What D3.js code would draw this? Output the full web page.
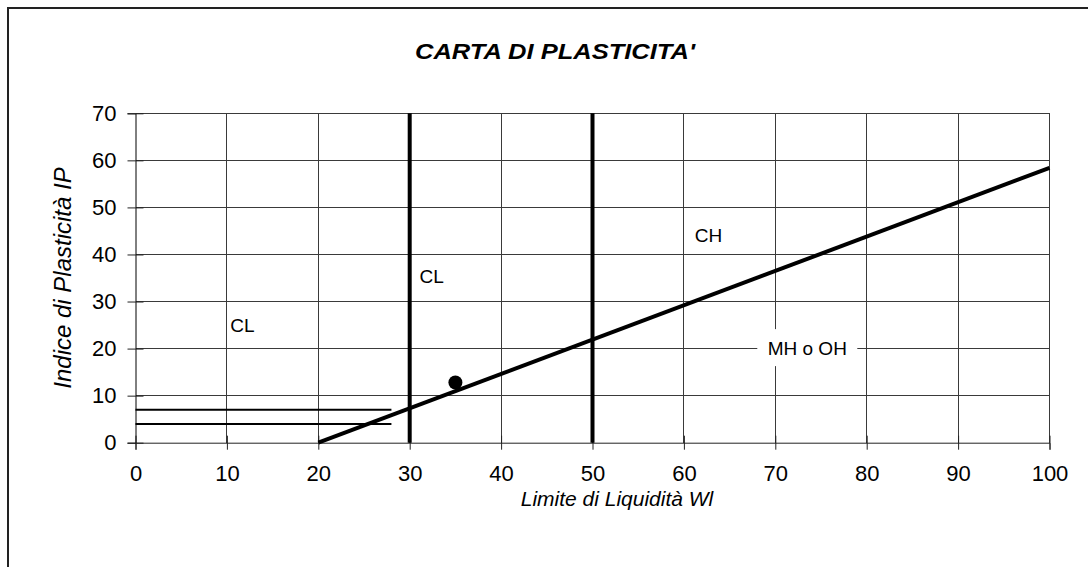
<!DOCTYPE html>
<html><head><meta charset="utf-8">
<script src="https://cdn.jsdelivr.net/npm/d3@7"></script>
<style>body{margin:0;background:#fff}svg{display:block}text{font-family:"Liberation Sans",Arial,sans-serif}</style>
</head><body>
<script>
const xTicks = [0,10,20,30,40,50,60,70,80,90,100];
const yTicks = [0,10,20,30,40,50,60,70];
const aLine = [[20,0],[100,58.4]];
const verticalLimits = [30,50];
const horizLimits = [{y:4,x0:0,x1:28},{y:7,x0:0,x1:28}];
const samplePoint = [{x:35,y:12.8}];
const zoneLabels = [
  {text:"CL", x:11.7, y:25},
  {text:"CL", x:32.4, y:35.4},
  {text:"CH", x:62.7, y:44.1},
  {text:"MH o OH", x:73.5, y:20.1, box:true}
];
const title = "CARTA DI PLASTICITA'";
const xTitle = "Limite di Liquidità Wl";
const yTitle = "Indice di Plasticità IP";

const W=1088,H=567;
const svg=d3.select("body").append("svg").attr("width",W).attr("height",H);
svg.append("rect").attr("x",8).attr("y",8).attr("width",1200).attr("height",700)
  .attr("fill","#fff").attr("stroke","#222").attr("stroke-width",2);

const x=d3.scaleLinear().domain([0,100]).range([135.5,1049.5]);
const y=d3.scaleLinear().domain([0,70]).range([442.7,113.3]);

// grid
svg.append("g").selectAll("line").data(yTicks.filter(d=>d>0)).join("line")
  .attr("x1",x(0)).attr("x2",x(100)).attr("y1",d=>y(d)).attr("y2",d=>y(d))
  .attr("stroke","#3a3a3a").attr("stroke-width",1).attr("shape-rendering","crispEdges");
svg.append("g").selectAll("line").data(xTicks.filter(d=>d>0)).join("line")
  .attr("y1",y(0)).attr("y2",y(70)).attr("x1",d=>x(d)).attr("x2",d=>x(d))
  .attr("stroke","#3a3a3a").attr("stroke-width",1).attr("shape-rendering","crispEdges");

// axes
const xAxis=d3.axisBottom(x).tickValues(xTicks).tickSize(7).tickPadding(16).tickFormat(d3.format("d"));
const gx=svg.append("g").attr("transform",`translate(0,${y(0)})`).call(xAxis);
gx.select(".domain").attr("stroke","#222");
gx.selectAll(".tick line").attr("y1",-7).attr("stroke","#222");
gx.selectAll("text").attr("font-size",22).attr("fill","#000");

const yAxis=d3.axisLeft(y).tickValues(yTicks).tickSize(8).tickPadding(11).tickFormat(d3.format("d"));
const gy=svg.append("g").attr("transform",`translate(${x(0)},0)`).call(yAxis);
gy.select(".domain").attr("stroke","#000");
gy.selectAll(".tick line").attr("x2",-8).attr("x1",8).attr("stroke","#222");
gy.selectAll("text").attr("font-size",22).attr("fill","#000");
gx.selectAll("text").attr("font-family","Liberation Sans, Arial, sans-serif");
gy.selectAll("text").attr("font-family","Liberation Sans, Arial, sans-serif");

// limit lines
const line=d3.line().x(d=>x(d[0])).y(d=>y(d[1]));
svg.append("path").datum(aLine).attr("d",line).attr("stroke","#000").attr("stroke-width",4).attr("fill","none");
svg.append("g").selectAll("line").data(verticalLimits).join("line")
  .attr("x1",d=>x(d)).attr("x2",d=>x(d)).attr("y1",y(0)).attr("y2",y(70))
  .attr("stroke","#000").attr("stroke-width",4);
svg.append("g").selectAll("line").data(horizLimits).join("line")
  .attr("x1",d=>x(d.x0)).attr("x2",d=>x(d.x1)).attr("y1",d=>y(d.y)).attr("y2",d=>y(d.y))
  .attr("stroke","#000").attr("stroke-width",2);

svg.append("g").selectAll("circle").data(samplePoint).join("circle")
  .attr("cx",d=>x(d.x)).attr("cy",d=>y(d.y)).attr("r",7).attr("fill","#000");

// zone labels
const zl=svg.append("g").selectAll("g").data(zoneLabels).join("g")
  .attr("transform",d=>`translate(${x(d.x)},${y(d.y)})`);
zl.filter(d=>d.box).append("rect").attr("x",-50).attr("y",-19).attr("width",100).attr("height",37).attr("fill","#fff");
zl.append("text").text(d=>d.text).attr("text-anchor","middle").attr("dy","0.35em")
  .attr("font-size",19).attr("fill","#000");

// titles
svg.append("text").text(title).attr("x",555).attr("y",59).attr("text-anchor","middle")
  .attr("font-size",22).attr("font-weight","bold").attr("font-style","italic")
  .attr("textLength",280).attr("lengthAdjust","spacingAndGlyphs");
svg.append("text").text(xTitle).attr("x",617).attr("y",506).attr("text-anchor","middle")
  .attr("font-size",21).attr("font-style","italic");
svg.append("text").text(yTitle).attr("transform",`translate(71,${y(35)}) rotate(-90)`).attr("text-anchor","middle")
  .attr("font-size",24).attr("font-style","italic");
</script>
</body></html>
